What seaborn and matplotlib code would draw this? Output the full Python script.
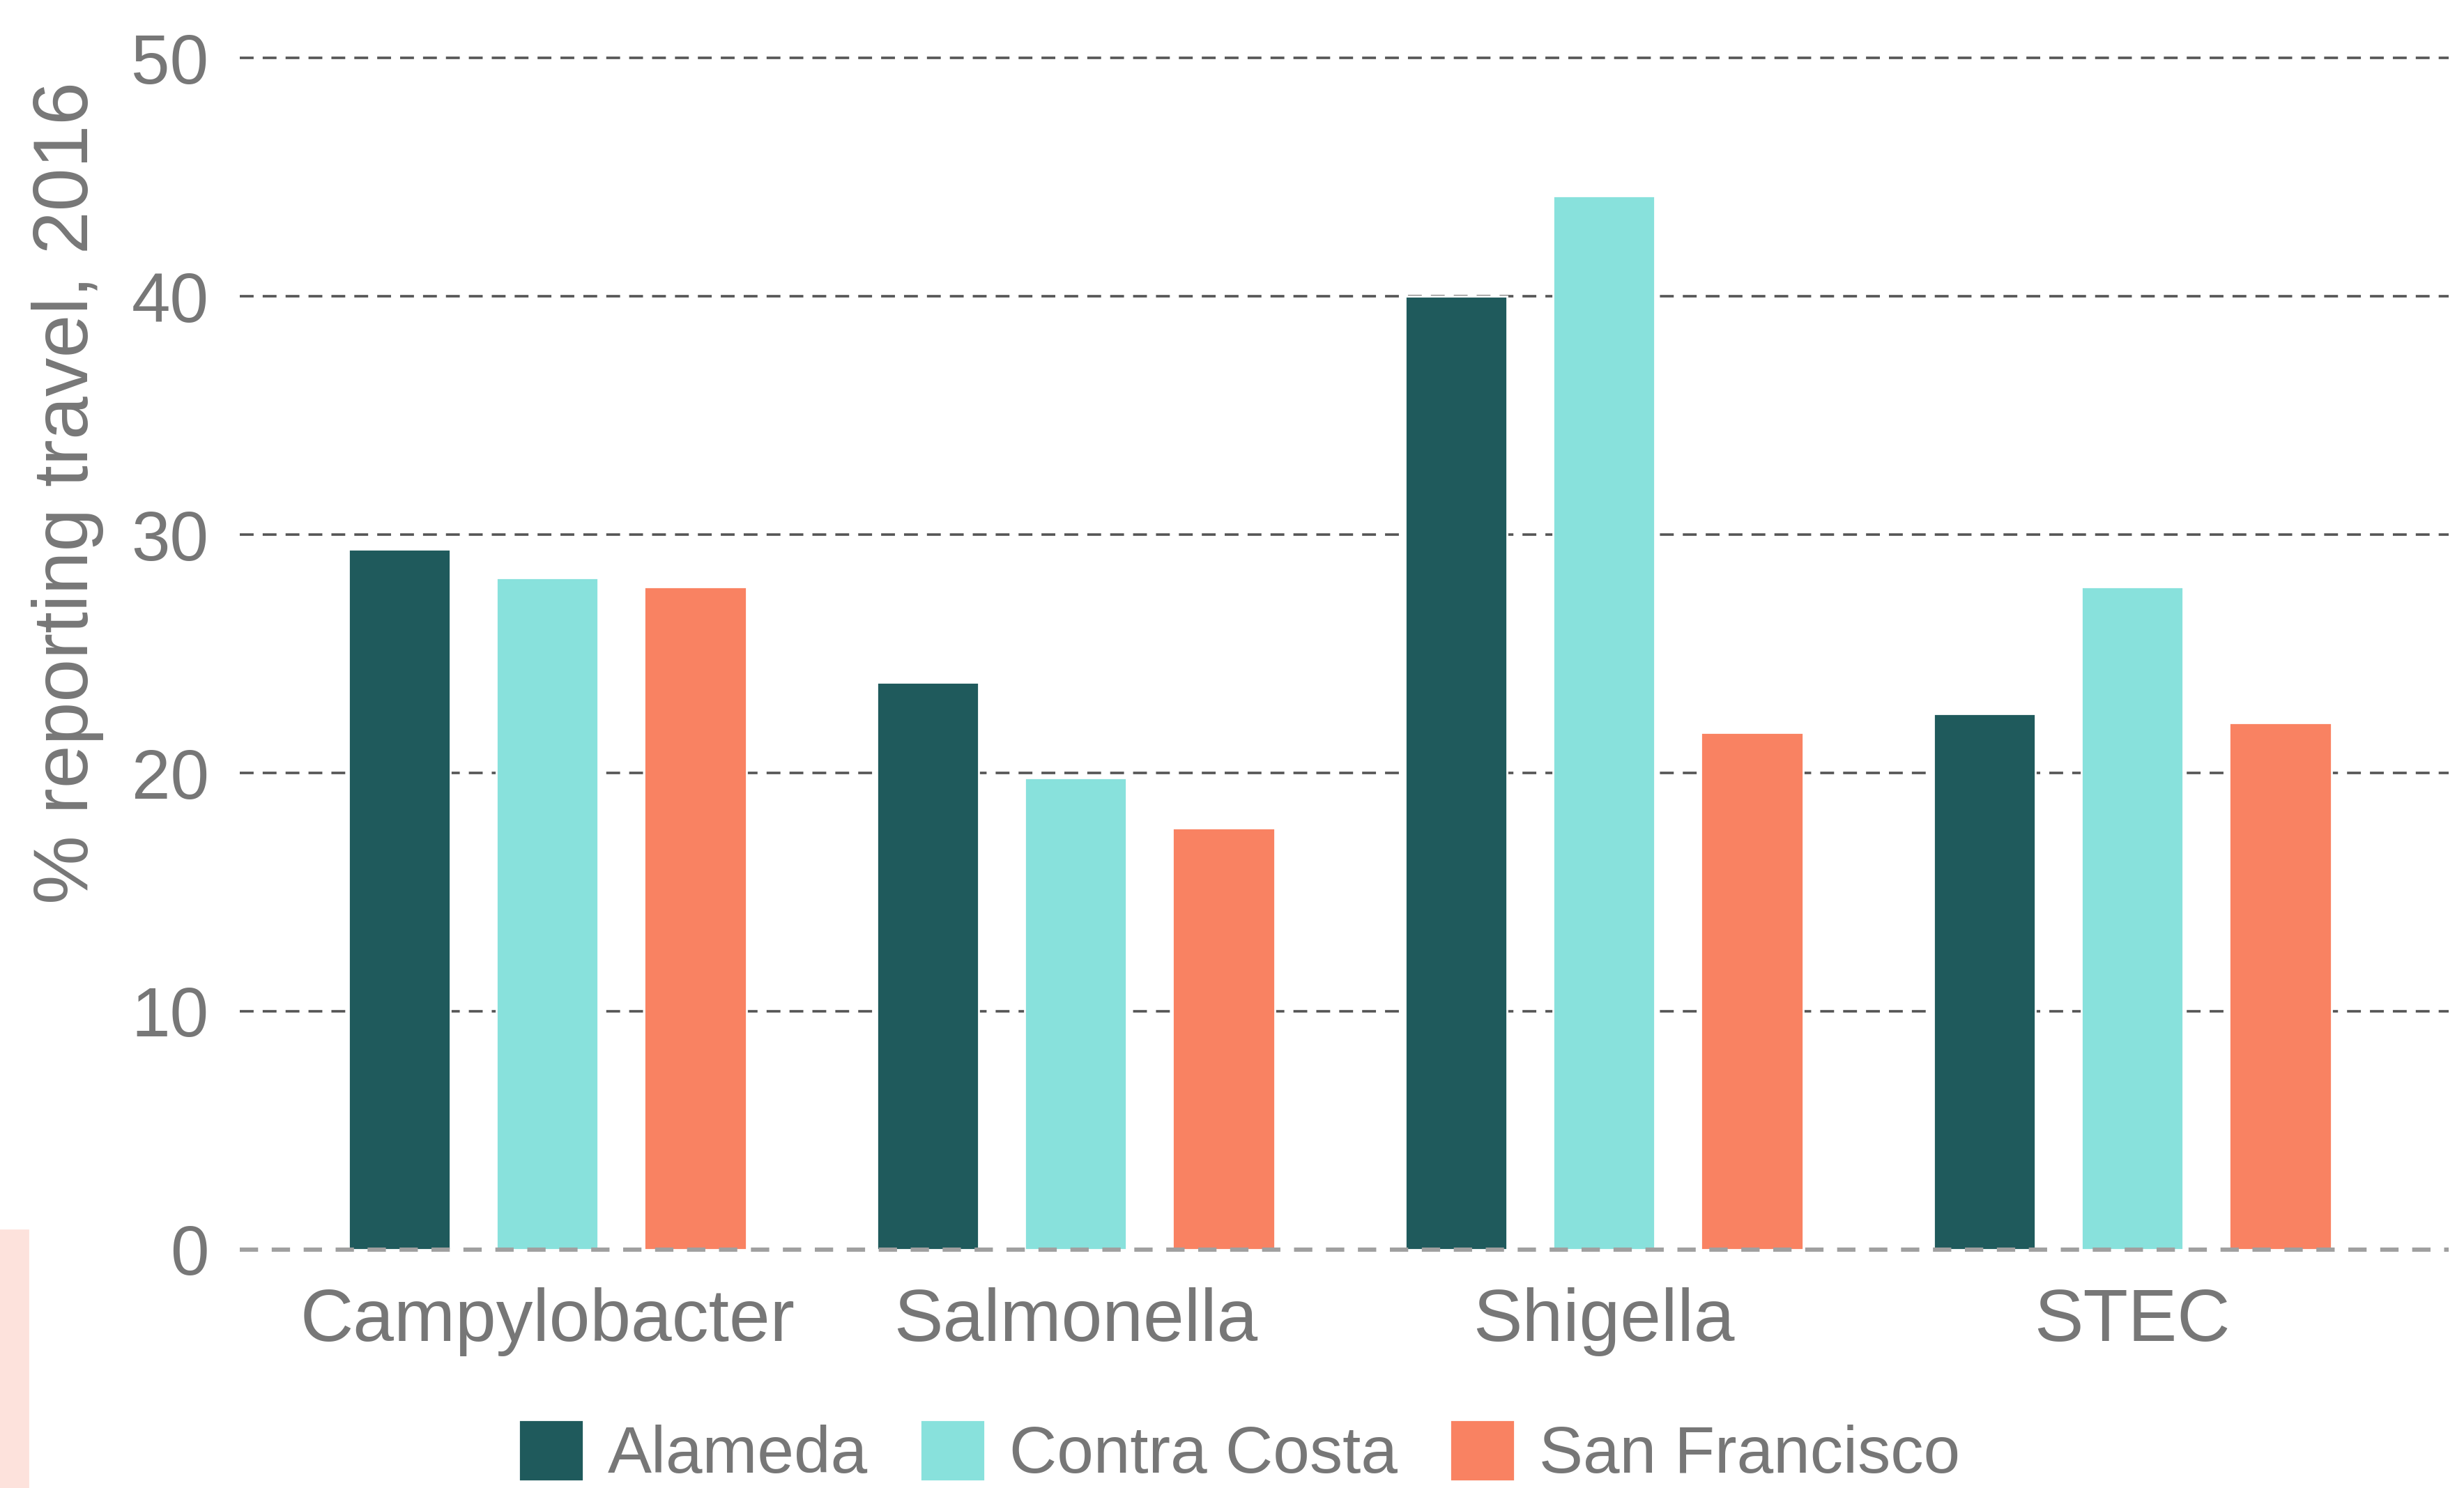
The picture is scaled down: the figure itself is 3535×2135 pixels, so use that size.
"""
Grouped bar chart: percent of enteric disease cases reporting travel,
2016, by pathogen and county.
"""

import pandas as pd
import matplotlib.pyplot as plt
import seaborn as sns
from matplotlib.patches import Rectangle

pathogens = ['Campylobacter', 'Salmonella', 'Shigella', 'STEC']
counties = ['Alameda', 'Contra Costa', 'San Francisco']
alameda = [29.4, 23.8, 40.0, 22.5]
contra_costa = [28.2, 19.8, 44.2, 27.8]
san_francisco = [27.8, 17.7, 21.7, 22.1]
colors = ['#1f5a5c', '#88e1dc', '#f98262']
y_ticks = [0, 10, 20, 30, 40, 50]

TEXT = '#777777'


def build_frame():
    """Long table of pathogen, county, percent."""
    rows = []
    for county, vals in zip(counties, [alameda, contra_costa, san_francisco]):
        for p, v in zip(pathogens, vals):
            rows.append({'Pathogen': p, 'County': county, 'Percent': v})
    return pd.DataFrame(rows)


def plot(df):
    sns.set_style('white')
    plt.rcParams['font.family'] = ['Liberation Sans', 'DejaVu Sans']

    fig = plt.figure(figsize=(17.675, 10.675), dpi=200)
    ax = fig.add_axes([0.0973, 0.1602, 0.8965, 0.8009])

    sns.barplot(data=df, x='Pathogen', y='Percent', hue='County',
                order=pathogens, hue_order=counties,
                palette=colors, saturation=1, width=0.84, gap=0.31,
                ax=ax, zorder=2)

    ax.set_xlim(-0.582, 3.599)
    ax.set_ylim(0, 50)
    ax.set_yticks(y_ticks)
    for s in ax.spines.values():
        s.set_visible(False)

    # dashed grid lines
    for t in y_ticks[1:]:
        ax.axhline(t, color='#555555', lw=1.3, ls=(0, (5.5, 3.6)),
                   zorder=1, clip_on=False)
    ax.axhline(0, color='#a0a0a0', lw=2.2, ls=(0, (4.3, 3.2)),
               zorder=3, clip_on=False)

    ax.tick_params(axis='y', length=0, pad=16, labelsize=36,
                   labelcolor=TEXT)
    ax.tick_params(axis='x', length=0, pad=19.5, labelsize=38,
                   labelcolor=TEXT)
    ax.set_xlabel('')
    ax.set_ylabel('% reporting travel, 2016', fontsize=40, color=TEXT,
                  va='center')
    ax.yaxis.set_label_coords(-0.078, 0.635)

    sns.move_legend(ax, 'upper center', bbox_to_anchor=(0.503, 0.068),
                    bbox_transform=fig.transFigure, ncol=3, frameon=False,
                    title='', fontsize=34, handlelength=0.98,
                    handleheight=1.05, handletextpad=0.37,
                    columnspacing=0.8, borderpad=0)
    for txt in ax.get_legend().get_texts():
        txt.set_color(TEXT)

    # pale strip in the lower left corner
    fig.patches.append(Rectangle((0, 0), 40 / 3535, 370 / 2135,
                                 transform=fig.transFigure,
                                 color='#fde2dc', zorder=0))

    fig.savefig('out.png', dpi=200)


def main():
    df = build_frame()
    plot(df)


if __name__ == '__main__':
    main()
